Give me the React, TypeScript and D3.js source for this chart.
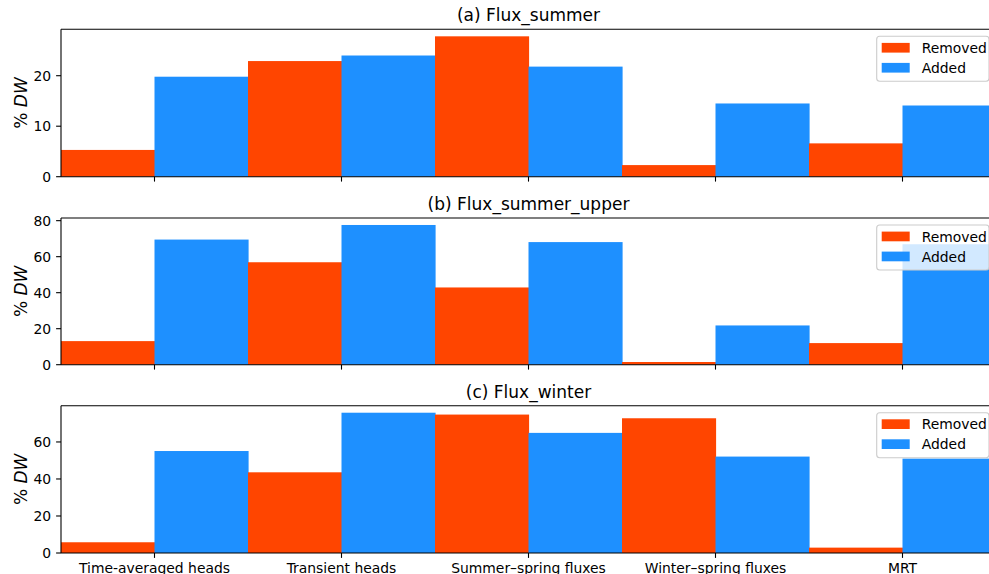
import React from "react";
import * as d3 from "d3";

const categories = [
  "Time-averaged heads",
  "Transient heads",
  "Summer–spring fluxes",
  "Winter–spring fluxes",
  "MRT",
];

const titles = ["(a) Flux_summer", "(b) Flux_summer_upper", "(c) Flux_winter"];

const removedA = [5.3, 22.9, 27.8, 2.3, 6.6];
const addedA = [19.8, 24.0, 21.8, 14.5, 14.1];
const removedB = [13.1, 56.9, 42.9, 1.5, 12.0];
const addedB = [69.5, 77.6, 68.1, 21.8, 66.9];
const removedC = [5.8, 43.6, 74.8, 72.8, 2.9];
const addedC = [55.1, 75.8, 64.9, 52.1, 51.0];

const ticksA = [0, 10, 20];
const ticksB = [0, 20, 40, 60, 80];
const ticksC = [0, 20, 40, 60];

const seriesNames = ["Removed", "Added"];
const colors = ["#FF4500", "#1E90FF"];

const W = 989;
const H = 574;
const FONT = "DejaVu Sans";

const panels = [
  { title: titles[0], removed: removedA, added: addedA, ticks: ticksA, top: 29.3, bottom: 176.7 },
  { title: titles[1], removed: removedB, added: addedB, ticks: ticksB, top: 218, bottom: 364.7 },
  { title: titles[2], removed: removedC, added: addedC, ticks: ticksC, top: 405.7, bottom: 553 },
];

const LEFT = 61;
const RIGHT = 996;

function Panel({ p, showLabels }: { p: any; showLabels: boolean }) {
  const x = d3.scaleBand<string>().domain(categories).range([LEFT, RIGHT]).padding(0);
  const bw = x.bandwidth();
  const maxV = d3.max([...p.removed, ...p.added]) as number;
  const y = d3.scaleLinear().domain([0, maxV * 1.05]).range([p.bottom, p.top]);
  const tickLen = 4.9;
  const fs = 13.9;
  const legTop = p.top + 7;
  const legRight = RIGHT - 7;
  const legLeft = 876.7;
  return (
    <g>
      <text
        x={(LEFT + RIGHT) / 2}
        y={p.top - 8}
        textAnchor="middle"
        fontSize={17}
        fontFamily={FONT}
        fill="#000"
      >
        {p.title}
      </text>
      {categories.map((c, i) => (
        <g key={c}>
          <rect x={x(c)!} y={y(p.removed[i])} width={bw / 2 + 0.6} height={y(0) - y(p.removed[i])} fill={colors[0]} />
          <rect x={x(c)! + bw / 2} y={y(p.added[i])} width={bw / 2 + 0.6} height={y(0) - y(p.added[i])} fill={colors[1]} />
        </g>
      ))}
      {/* spines */}
      <line x1={LEFT} x2={RIGHT} y1={p.top} y2={p.top} stroke="#000" strokeWidth={1.1} />
      <line x1={LEFT} x2={RIGHT} y1={p.bottom} y2={p.bottom} stroke="#000" strokeWidth={1.1} />
      <line x1={LEFT} x2={LEFT} y1={p.top} y2={p.bottom} stroke="#000" strokeWidth={1.1} />
      {/* y ticks */}
      {p.ticks.map((t: number) => (
        <g key={t}>
          <line x1={LEFT - tickLen} x2={LEFT} y1={y(t)} y2={y(t)} stroke="#000" strokeWidth={1.1} />
          <text
            x={LEFT - tickLen - 4.9}
            y={y(t)}
            dy="0.36em"
            textAnchor="end"
            fontSize={fs}
            fontFamily={FONT}
            fill="#000"
          >
            {t}
          </text>
        </g>
      ))}
      {/* x ticks */}
      {categories.map((c) => (
        <g key={c}>
          <line
            x1={x(c)! + bw / 2}
            x2={x(c)! + bw / 2}
            y1={p.bottom}
            y2={p.bottom + tickLen}
            stroke="#000"
            strokeWidth={1.1}
          />
          {showLabels && (
            <text
              x={x(c)! + bw / 2}
              y={p.bottom + tickLen + 4.9}
              dy="0.76em"
              textAnchor="middle"
              fontSize={fs}
              fontFamily={FONT}
              fill="#000"
            >
              {c}
            </text>
          )}
        </g>
      ))}
      {/* y label */}
      <text
        transform={`translate(${26.5},${(p.top + p.bottom) / 2}) rotate(-90)`}
        textAnchor="middle"
        fontSize={17}
        fontFamily={FONT}
        fill="#000"
      >
        %{" "}
        <tspan fontStyle="italic">DW</tspan>
      </text>
      {/* legend */}
      <rect
        x={legLeft}
        y={legTop}
        width={legRight - legLeft}
        height={45}
        rx={3}
        fill="#fff"
        fillOpacity={0.8}
        stroke="#cccccc"
        strokeWidth={1.1}
      />
      {seriesNames.map((s, i) => (
        <g key={s}>
          <rect x={881.7} y={legTop + 6.6 + i * 20} width={28} height={9.7} fill={colors[i]} />
          <text
            x={921.7}
            y={legTop + 11.5 + i * 20}
            dy="0.36em"
            fontSize={fs}
            fontFamily={FONT}
            fill="#000"
          >
            {s}
          </text>
        </g>
      ))}
    </g>
  );
}

export default function App() {
  return (
    <div style={{ position: "absolute", left: 0, top: 0, width: W, height: H, background: "#fff" }}>
      <svg width={W} height={H} viewBox={`0 0 ${W} ${H}`} style={{ display: "block" }}>
        <rect width={W} height={H} fill="#fff" />
        {panels.map((p, i) => (
          <Panel key={i} p={p} showLabels={i === 2} />
        ))}
      </svg>
    </div>
  );
}
